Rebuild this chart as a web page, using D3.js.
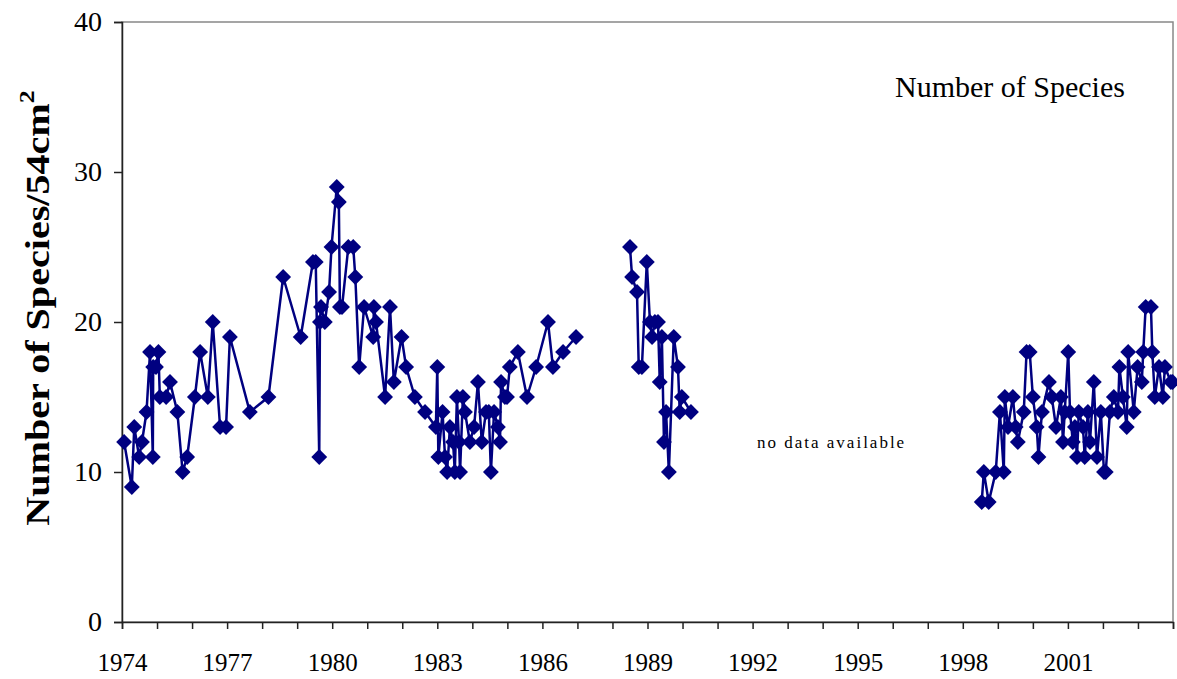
<!DOCTYPE html>
<html><head><meta charset="utf-8">
<script src="https://d3js.org/d3.v7.min.js"></script>
<style>
body{margin:0;background:#fff}
text{font-family:"Liberation Serif","Times New Roman",serif}
</style>
</head><body>
<svg width="1177" height="679"></svg>
<script>
// sampling dates (decimal years) and species counts, three survey periods
var seg1Years = [1974.06,1974.28,1974.35,1974.49,1974.57,1974.70,1974.80,1974.88,1974.89,1974.97,1975.04,1975.08,1975.26,1975.37,1975.58,1975.73,1975.86,1976.08,1976.23,1976.45,1976.59,1976.80,1976.97,1977.08,1977.65,1978.18,1978.60,1979.10,1979.45,1979.53,1979.63,1979.65,1979.68,1979.79,1979.91,1979.98,1980.13,1980.19,1980.22,1980.28,1980.46,1980.60,1980.66,1980.77,1980.91,1981.17,1981.19,1981.25,1981.51,1981.65,1981.76,1981.98,1982.11,1982.36,1982.65,1982.96,1983.00,1983.03,1983.15,1983.22,1983.28,1983.36,1983.45,1983.50,1983.56,1983.62,1983.65,1983.73,1983.79,1983.93,1984.05,1984.16,1984.27,1984.39,1984.47,1984.53,1984.62,1984.73,1984.79,1984.82,1984.93,1984.99,1985.07,1985.30,1985.56,1985.82,1986.16,1986.30,1986.59,1986.96];
var seg1Species = [12,9,13,11,12,14,18,11,17,17,18,15,15,16,14,10,11,15,18,15,20,13,13,19,14,15,23,19,24,24,11,20,21,20,22,25,29,28,21,21,25,25,23,17,21,19,21,20,15,21,16,19,17,15,14,13,17,11,14,11,10,13,12,10,15,12,10,15,14,12,13,16,12,14,14,10,14,13,12,16,15,15,17,18,15,17,20,17,18,19];

var seg2Years = [1988.50,1988.56,1988.70,1988.75,1988.84,1988.98,1989.07,1989.13,1989.21,1989.30,1989.35,1989.41,1989.47,1989.53,1989.61,1989.75,1989.87,1989.92,1989.98,1990.24];
var seg2Species = [25,23,22,17,17,24,20,19,20,20,16,19,12,14,10,19,17,14,15,14];

var seg3Years = [1998.54,1998.60,1998.74,1998.94,1999.06,1999.17,1999.20,1999.29,1999.43,1999.51,1999.57,1999.74,1999.82,1999.91,2000.00,2000.11,2000.16,2000.26,2000.46,2000.54,2000.66,2000.80,2000.86,2000.91,2001.01,2001.06,2001.14,2001.20,2001.26,2001.31,2001.43,2001.48,2001.57,2001.63,2001.74,2001.83,2001.94,2002.03,2002.08,2002.20,2002.31,2002.43,2002.47,2002.57,2002.68,2002.72,2002.88,2002.99,2003.11,2003.15,2003.22,2003.37,2003.41,2003.48,2003.60,2003.71,2003.77,2003.94,2003.99];
var seg3Species = [8,10,8,10,14,10,15,13,15,13,12,14,18,18,15,13,11,14,16,15,13,15,12,14,18,14,12,13,11,14,13,11,14,12,16,11,14,10,10,14,15,14,17,15,13,18,14,17,16,18,21,21,18,15,17,15,17,16,16];

var yTicks = [0,10,20,30,40];
var xLabelYears = [1974,1977,1980,1983,1986,1989,1992,1995,1998,2001];

var svg = d3.select("svg");
var plotLeft = 122, plotRight = 1173, plotTop = 22, plotBottom = 622;
var navy = "#000080";

var x = d3.scaleLinear().domain([1974,2004]).range([plotLeft,plotRight]);
var y = d3.scaleLinear().domain([0,40]).range([plotBottom,plotTop]);

// plot frame
svg.append("rect")
    .attr("x",plotLeft).attr("y",plotTop)
    .attr("width",plotRight-plotLeft).attr("height",plotBottom-plotTop)
    .attr("fill","none").attr("stroke","#888").attr("stroke-width",1.5);

// y axis
var gy = svg.append("g")
    .attr("transform","translate("+plotLeft+",0)")
    .call(d3.axisLeft(y).tickValues(yTicks).tickSize(8).tickPadding(12));
gy.selectAll("text").style("font-size","28px").attr("fill","#000");
gy.selectAll("line,path").attr("stroke","#222").attr("stroke-width",1.5);

// x axis, a tick every year, a label every third
var gx = svg.append("g")
    .attr("transform","translate(0,"+plotBottom+")")
    .call(d3.axisBottom(x)
        .tickValues(d3.range(1974,2005))
        .tickSize(7).tickPadding(24)
        .tickFormat(function(d){ return xLabelYears.indexOf(d) >= 0 ? d : ""; }));
gx.selectAll("text").style("font-size","25px").attr("fill","#000");
gx.selectAll("line,path").attr("stroke","#222").attr("stroke-width",1.5);

var line = d3.line()
    .x(function(d){ return x(d[0]); })
    .y(function(d){ return y(d[1]); });

var segments = [
    d3.zip(seg1Years, seg1Species),
    d3.zip(seg2Years, seg2Species),
    d3.zip(seg3Years, seg3Species)
];

var diamond = d3.symbol().type(d3.symbolDiamond2).size(160);

segments.forEach(function(seg){
    svg.append("path")
        .datum(seg)
        .attr("d",line)
        .attr("fill","none")
        .attr("stroke",navy)
        .attr("stroke-width",2.5);
    svg.selectAll(null)
        .data(seg)
        .enter()
        .append("path")
        .attr("d",diamond)
        .attr("transform",function(d){ return "translate("+x(d[0])+","+y(d[1])+")"; })
        .attr("fill",navy);
});

// legend label
svg.append("text")
    .attr("x",895).attr("y",97)
    .style("font-size","30px")
    .text("Number of Species");

// gap note
svg.append("text")
    .attr("x",757).attr("y",448)
    .style("font-size","17px")
    .style("letter-spacing","2px")
    .text("no data available");

// y title, stretched along its length like the original
var yt = svg.append("text")
    .attr("transform","translate(49,308) rotate(-90) scale(1.18,1)")
    .attr("text-anchor","middle")
    .style("font-size","34px")
    .style("font-weight","bold");
yt.append("tspan").text("Number of Species/54cm");
yt.append("tspan").attr("dy",-15).style("font-size","22px").text("2");
</script>
</body></html>
